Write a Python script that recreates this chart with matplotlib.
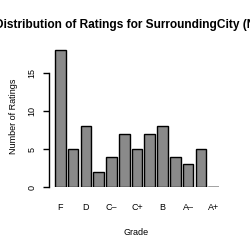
import matplotlib
matplotlib.use("Agg")
import matplotlib.pyplot as plt

grades = ["F", "D-", "D", "D+", "C-", "C", "C+", "B-", "B", "B+", "A-", "A", "A+"]
tick_labels = ["F", "D", "C\u2013", "C+", "B", "A\u2013", "A+"]
counts = [18, 5, 8, 2, 4, 7, 5, 7, 8, 4, 3, 5, 0]
yticks = [0, 5, 10, 15]

plt.rcParams['font.family'] = ['Liberation Sans', 'DejaVu Sans']
fig = plt.figure(figsize=(2.5, 2.5), dpi=100)
W, H = 250, 250
ax_l, ax_r = 52.9, 219.0
ax_b, ax_t = 187.3, 187.3 - 18.5 * 7.64
ax = fig.add_axes([ax_l / W, 1 - ax_b / H, (ax_r - ax_l) / W, (ax_b - ax_t) / H])

xs = [0.7 + 1.2 * i for i in range(len(grades))]
ax.bar(xs, counts, width=1.0, color="#8a8a8a", edgecolor="black", linewidth=1.0)
for x, c in zip(xs, counts):
    if c == 0:
        ax.plot([x - 0.5, x + 0.5], [0, 0], color="black", lw=1.0)
ax.set_xlim(0, 15.6)
ax.set_ylim(0, 18.5)
for s in ["top", "right", "bottom"]:
    ax.spines[s].set_visible(False)
ax.spines["left"].set_position(("outward", 2.6))
ax.spines["left"].set_bounds(0, 15)
ax.spines["left"].set_linewidth(1.0)
ax.set_yticks(yticks)
ax.set_yticklabels([str(v) for v in yticks], rotation=90, va="center", fontsize=6.5)
ax.tick_params(axis="y", length=4, width=1.0, pad=5)
ax.set_xticks(xs[::2])
ax.set_xticklabels(tick_labels, fontsize=6.5)
ax.tick_params(axis="x", length=0, pad=11)
ax.set_xlabel("Grade", fontsize=6.5, labelpad=12)
ax.set_ylabel("Number of Ratings", fontsize=6.5, labelpad=7)
fig.text(-5 / W, 1 - 25 / H, "Distribution of Ratings for SurroundingCity (N=76)",
         ha="left", va="center", fontsize=8.6, fontweight="bold")
fig.savefig("out.png", dpi=100)
